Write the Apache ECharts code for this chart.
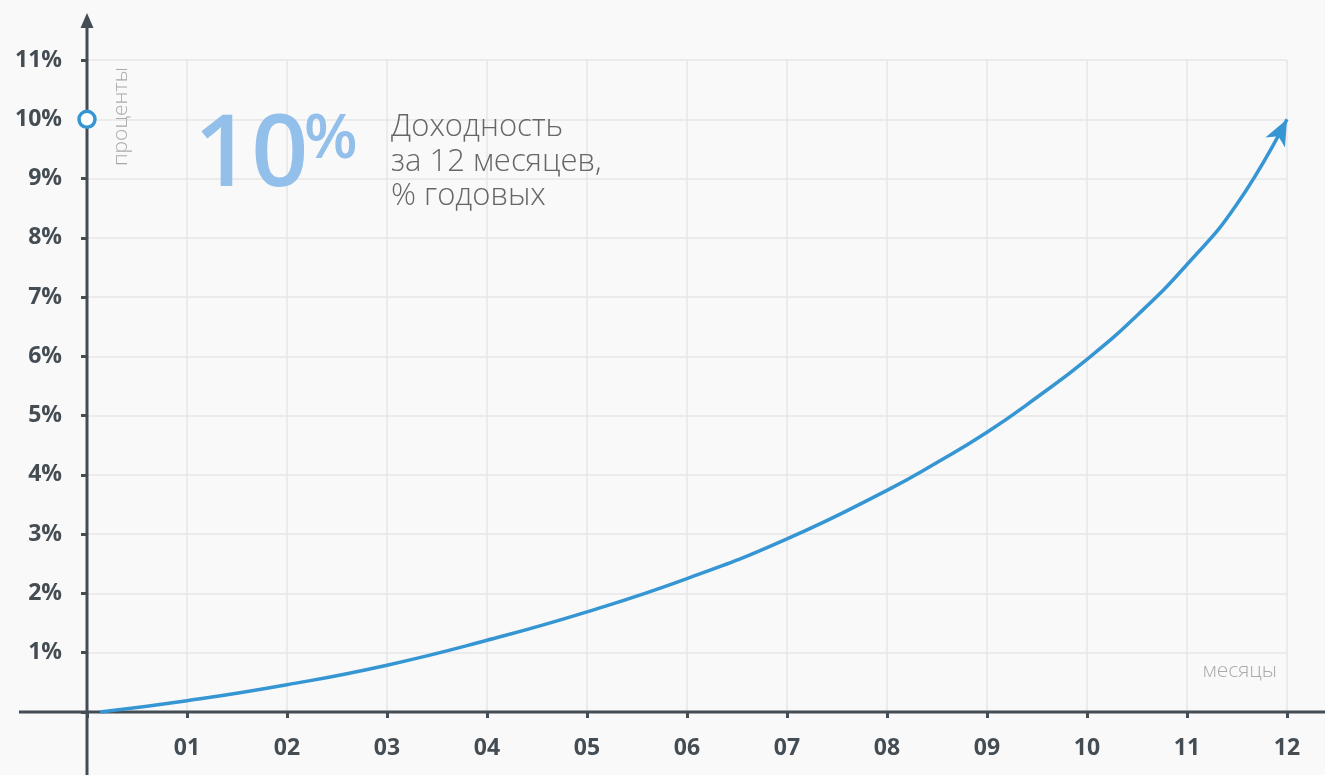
<!DOCTYPE html>
<html>
<head>
<meta charset="utf-8">
<script src="https://cdn.jsdelivr.net/npm/echarts@6/dist/echarts.min.js"></script>
<style>
html,body{margin:0;padding:0;background:#f9f9f9;}
#c{width:1325px;height:775px;}
</style>
</head>
<body>
<div id="c"></div>
<script>
// Data
const months = [0.13, 1, 2, 3, 4, 5, 6, 7, 8, 8.5, 9, 9.5, 10, 10.5, 11, 11.5, 12];
const yields = [0, 0.19, 0.46, 0.79, 1.21, 1.69, 2.25, 2.92, 3.74, 4.21, 4.72, 5.31, 5.95, 6.69, 7.55, 8.57, 10];
const xTickLabels = ['', '01','02','03','04','05','06','07','08','09','10','11','12'];
const yTickLabels = ['', '1%','2%','3%','4%','5%','6%','7%','8%','9%','10%','11%'];
const markerPoint = [0, 10];
const headlineValue = '10';
const headlineUnit = '%';
const headlineText = ['Доходность', 'за 12 месяцев,', '% годовых'];
const yAxisName = 'проценты';
const xAxisName = 'месяцы';

const AX = '#454d54';
const BLUE = '#3596d3';
const GRID = '#e6e6e6';
const FONT = "'Open Sans', 'DejaVu Sans', sans-serif";

const chart = echarts.init(document.getElementById('c'));

const baseX = {type: 'value', min: 0, max: 12, interval: 1, gridIndex: 0, axisLine: {show: false}};
const baseY = {type: 'value', min: 0, max: 11, interval: 1, gridIndex: 0, axisLine: {show: false}};

chart.setOption({
  backgroundColor: '#f9f9f9',
  animation: false,
  grid: {left: 87, right: 38, top: 60, bottom: 63},
  xAxis: [
    Object.assign({}, baseX, {
      axisTick: {show: true, inside: false, length: 6, lineStyle: {color: AX, width: 3}},
      axisLabel: {
        margin: 25, color: AX, fontFamily: FONT, fontWeight: 'bold', fontSize: 23,
        formatter: v => xTickLabels[Math.round(v)]
      },
      splitLine: {show: true, lineStyle: {color: GRID, width: 1.5}}
    }),
    Object.assign({}, baseX, {
      axisTick: {show: true, inside: true, length: 6, lineStyle: {color: AX, width: 3}},
      axisLabel: {show: false},
      splitLine: {show: false}
    })
  ],
  yAxis: [
    Object.assign({}, baseY, {
      axisTick: {show: true, inside: false, length: 6, lineStyle: {color: AX, width: 3}},
      axisLabel: {
        margin: 25, color: AX, fontFamily: FONT, fontWeight: 'bold', fontSize: 23,
        formatter: v => yTickLabels[Math.round(v)]
      },
      splitLine: {show: true, lineStyle: {color: GRID, width: 1.5}}
    }),
    Object.assign({}, baseY, {
      axisTick: {show: true, inside: true, length: 6, lineStyle: {color: AX, width: 3}},
      axisLabel: {show: false},
      splitLine: {show: false}
    })
  ],
  series: [
    {
      type: 'line', xAxisIndex: 0, yAxisIndex: 0,
      data: months.map((m, i) => [m, yields[i]]), smooth: 0.5,
      symbol: 'none',
      lineStyle: {color: BLUE, width: 3.5},
      clip: false, z: 5
    },
    {
      type: 'scatter', xAxisIndex: 0, yAxisIndex: 0,
      data: [markerPoint], symbol: 'circle', symbolSize: 16,
      itemStyle: {color: '#ffffff', borderColor: BLUE, borderWidth: 3.5, opacity: 1},
      clip: false, zlevel: 1, z: 10
    }
  ]
});

const px = (x, y) => chart.convertToPixel({xAxisIndex: 0, yAxisIndex: 0}, [x, y]);
const o = px(0, 0);
const top11 = px(0, 11);
const tip = px(months[months.length - 1], yields[yields.length - 1]);
const W = 1325, H = 775;

// arrow head geometry (style): pointing ~27deg right of vertical
const ang = 27 * Math.PI / 180;
const ux = Math.sin(ang), uy = -Math.cos(ang);
const vx = -uy, vy = ux;
const L = 26, HW = 11, N = 19;
const base = [tip[0] - ux * L, tip[1] - uy * L];
const arrowPts = [
  tip,
  [base[0] + vx * HW, base[1] + vy * HW],
  [tip[0] - ux * N, tip[1] - uy * N],
  [base[0] - vx * HW, base[1] - vy * HW]
];

chart.setOption({
  graphic: [
    {type: 'line', z: 4, shape: {x1: o[0] - 68, y1: o[1], x2: W, y2: o[1]},
     style: {stroke: AX, lineWidth: 3}},
    {type: 'line', z: 4, shape: {x1: o[0], y1: H, x2: o[0], y2: top11[1] - 38},
     style: {stroke: AX, lineWidth: 3}},
    {type: 'polygon', z: 4,
     shape: {points: [[o[0], top11[1] - 47], [o[0] - 6.5, top11[1] - 32], [o[0] + 6.5, top11[1] - 32]]},
     style: {fill: AX}},
    {type: 'polygon', z: 20, shape: {points: arrowPts}, style: {fill: BLUE}},
    {type: 'text', z: 6, left: 194, top: 108,
     style: {text: headlineValue, fill: '#93c0ea', font: "600 100px " + FONT}},
    {type: 'text', z: 6, left: 304, top: 109,
     style: {text: headlineUnit, fill: '#93c0ea', font: "600 62px " + FONT}},
    {type: 'text', z: 6, left: 391, top: 110,
     style: {text: headlineText.join('\n'), fill: '#666666', font: "300 31px " + FONT, lineHeight: 34.5}},
    {type: 'text', z: 6, x: 111, y: 166, rotation: Math.PI / 2,
     style: {text: yAxisName, fill: '#aaaaaa', font: "300 21px " + FONT, textAlign: 'left', textVerticalAlign: 'top'}},
    {type: 'text', z: 6, x: 1277, y: 671,
     style: {text: xAxisName, fill: '#aaaaaa', font: "300 21px " + FONT, textAlign: 'right', textVerticalAlign: 'middle'}}
  ]
});
</script>
</body>
</html>
